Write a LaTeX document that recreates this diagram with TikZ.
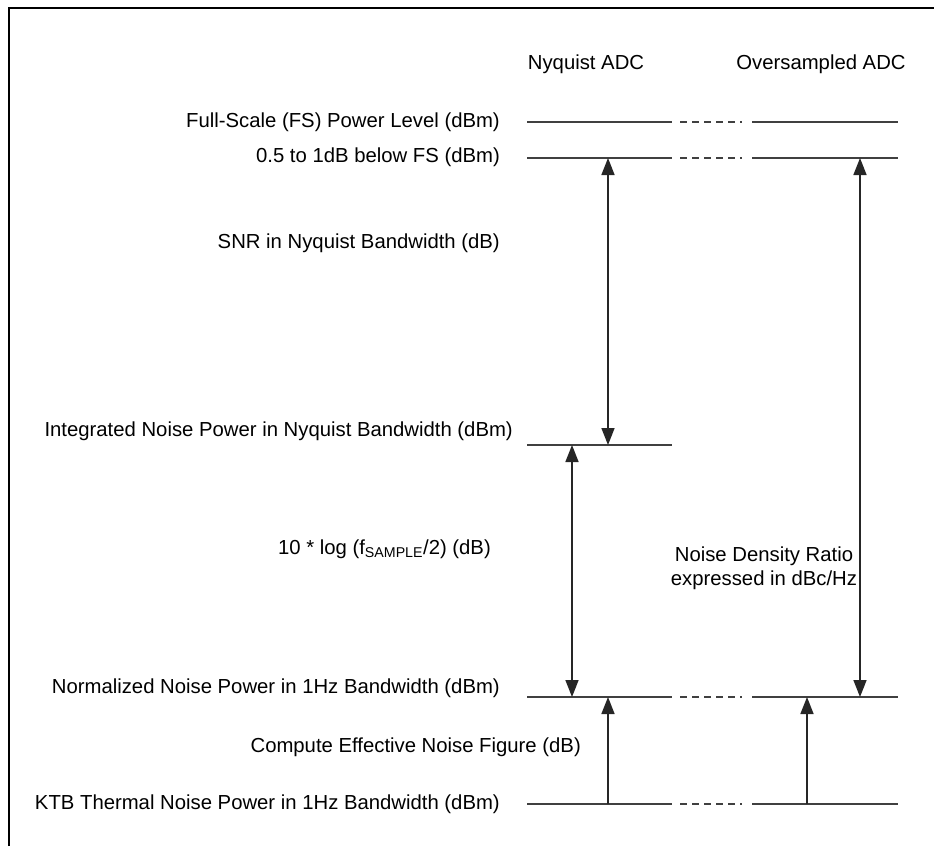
\documentclass[tikz,border=0pt]{standalone}
\usepackage{fontspec}
\setmainfont{Liberation Sans}
\usetikzlibrary{arrows.meta}
\begin{document}
\begin{tikzpicture}[x=1pt,y=-1pt,
  lbl/.style={anchor=east,inner sep=0pt,font=\fontsize{20.3}{24}\selectfont},
  txt/.style={inner sep=0pt,font=\fontsize{20.3}{24}\selectfont},
  level/.style={line width=1.8pt,draw=black!75},
  gap/.style={line width=1.8pt,draw=black!75,dash pattern=on 7pt off 5pt on 7pt off 5pt on 7pt off 5pt on 7pt off 5pt on 7pt off 5pt on 2pt off 20pt},
  tip/.style={},
  dbl/.style={line width=1.6pt,draw=black!85,{Triangle[length=17pt,width=13pt]}-{Triangle[length=17pt,width=13pt]}},
  sgl/.style={line width=1.6pt,draw=black!85,-{Triangle[length=17pt,width=13pt]}},
  frame/.style={line width=2pt,draw=black}]
\useasboundingbox (0,0) rectangle (934,846);
% frame
\draw[frame] (9,846) -- (9,8) -- (934,8);
% headers
\node[txt] (nyq) at (586,64) {Nyquist ADC};
\node[txt] (ovs) at (821,64) {Oversampled ADC};
% labels
\node[lbl] (fs) at (500,122) {Full-Scale (FS) Power Level (dBm)};
\node[lbl] (bfs) at (500,157) {0.5 to 1dB below FS (dBm)};
\node[lbl] (snr) at (500,243) {SNR in Nyquist Bandwidth (dB)};
\node[lbl] (inp) at (513,431) {Integrated Noise Power in Nyquist Bandwidth (dBm)};
\node[lbl] (log) at (491,549) {10 * log (f\textsubscript{SAMPLE}/2) (dB)};
\node[lbl] (nnp) at (500,688) {Normalized Noise Power in 1Hz Bandwidth (dBm)};
\node[lbl] (cnf) at (581,747) {Compute Effective Noise Figure (dB)};
\node[lbl] (ktb) at (500,804) {KTB Thermal Noise Power in 1Hz Bandwidth (dBm)};
\node[txt,align=center] (ndr) at (764,568) {Noise Density Ratio\\expressed in dBc/Hz};
% level coordinates
\foreach \n/\y in {fsl/122, bfl/158, nnl/697, ktl/804}{
  \coordinate (\n a) at (527,\y);
  \coordinate (\n b) at (672,\y);
  \coordinate (\n c) at (680,\y);
  \coordinate (\n d) at (744,\y);
  \coordinate (\n e) at (752,\y);
  \coordinate (\n f) at (898,\y);
  \draw[level] (\n a) -- (\n b);
  \draw[gap] (\n c) -- (\n d);
  \draw[level] (\n e) -- (\n f);
}
\coordinate (inla) at (527,445);
\coordinate (inlb) at (672,445);
\draw[level] (inla) -- (inlb);
% arrow anchor points
\coordinate (snrT) at (608,158);
\coordinate (snrB) at (608,445);
\coordinate (ndrT) at (860,158);
\coordinate (ndrB) at (860,697);
\coordinate (logT) at (572,445);
\coordinate (logB) at (572,697);
\coordinate (nf1T) at (608,697);
\coordinate (nf1B) at (608,804);
\coordinate (nf2T) at (807,697);
\coordinate (nf2B) at (807,804);
\draw[dbl] (snrT) -- (snrB);
\draw[dbl] (ndrT) -- (ndrB);
\draw[dbl] (logT) -- (logB);
\draw[sgl] (nf1B) -- (nf1T);
\draw[sgl] (nf2B) -- (nf2T);
\end{tikzpicture}
\end{document}
